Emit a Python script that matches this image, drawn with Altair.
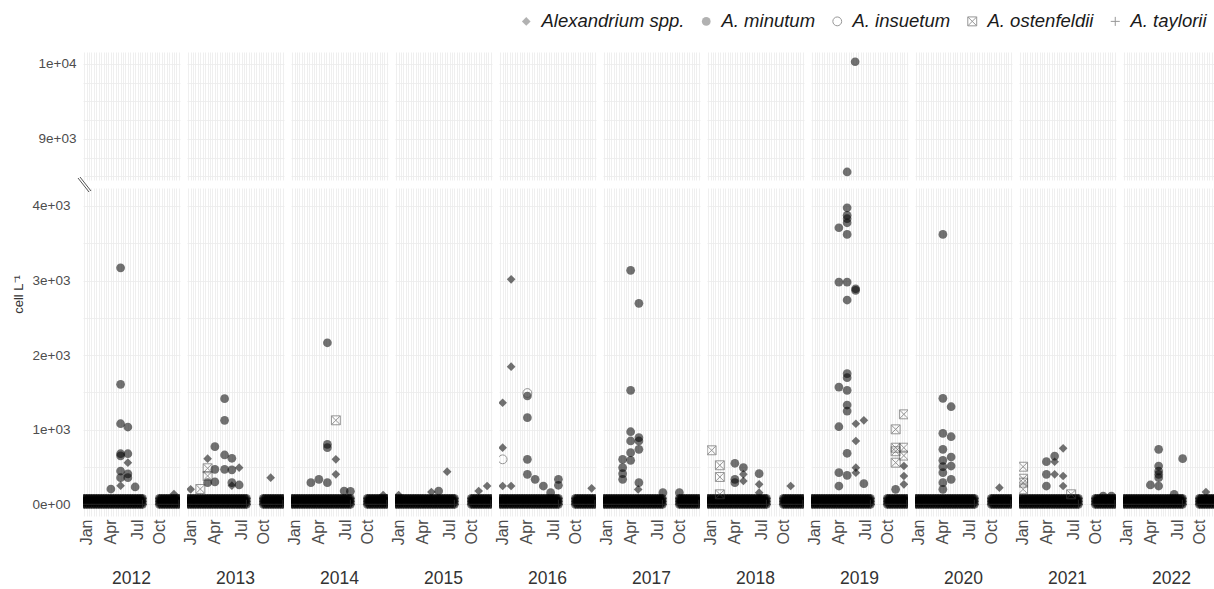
import altair as alt
import pandas as pd

years = list(range(2012, 2023))
species = ["Alexandrium spp.", "A. minutum", "A. insuetum", "A. ostenfeldii", "A. taylorii"]
shape_range = ["diamond", "circle", "circle",
               "M-1,-1H1V1H-1Z M-1,-1L1,1 M1,-1L-1,1",
               "M-1,0H1 M0,-1V1"]
fill_range = ["black", "black", "transparent", "transparent", "transparent"]
stroke_range = ["transparent", "transparent", "#444", "#444", "#444"]
size_range = [75, 81, 81, 100, 170]

month_labels = ["Jan", "Apr", "Jul", "Oct"]
month_pos = [1, 11, 22, 31]
x_grid = list(range(40))

y_bottom_grid = [0, 500, 1000, 1500, 2000, 2500, 3000, 3500, 4000]
y_bottom_ticks = [0, 1000, 2000, 3000, 4000]
y_bottom_labels = ["0e+00", "1e+03", "2e+03", "3e+03", "4e+03"]
y_top_grid = [8500, 8750, 9000, 9250, 9500, 9750, 10000]
y_top_ticks = [9000, 10000]
y_top_labels = ["9e+03", "1e+04"]

# sampled positions (each sampling date) where near-zero counts were recorded
sampled_pos = list(range(0, 25)) + list(range(31, 40))
low_levels = [0, 40, 80]

# (year, position, cells per litre)
spp_obs = [
    (2012, 18, 558), (2012, 37, 138), (2012, 15, 250),
    (2013, 8, 612), (2013, 1, 201), (2013, 21, 491), (2013, 34, 357), (2013, 18, 250),
    (2014, 18, 603), (2014, 18, 402), (2014, 37.5, 125),
    (2015, 21, 437), (2015, 37.5, 245), (2015, 14.5, 165), (2015, 34, 178), (2015, 1, 125),
    (2016, 4.5, 3016), (2016, 4.5, 1845), (2016, 1, 1362), (2016, 1, 759),
    (2016, 4.5, 245), (2016, 1, 245), (2016, 37.7, 214),
    (2017, 14, 200),
    (2018, 14.5, 402), (2018, 14.5, 312), (2018, 21, 268), (2018, 21, 156), (2018, 34, 245),
    (2019, 18, 1080), (2019, 21.3, 1126), (2019, 18, 849), (2019, 18, 491), (2019, 18, 424),
    (2019, 37.8, 513), (2019, 37.8, 379), (2019, 37.8, 268),
    (2020, 34.3, 223),
    (2021, 17.7, 750), (2021, 14.2, 571), (2021, 14.2, 402), (2021, 17.7, 379), (2021, 17.7, 245),
    (2022, 33.7, 165),
]
minutum_obs = [
    (2012, 15, 3170), (2012, 15, 1608), (2012, 15, 1080), (2012, 18, 1036), (2012, 15, 678),
    (2012, 18, 678), (2012, 15, 650), (2012, 15, 446), (2012, 18, 408), (2012, 15, 357),
    (2012, 18, 357), (2012, 11, 205), (2012, 21, 232),
    (2013, 11, 772), (2013, 15, 1416), (2013, 15, 1126), (2013, 15, 661), (2013, 11, 469),
    (2013, 15, 469), (2013, 18, 617), (2013, 18, 462), (2013, 18, 290), (2013, 21, 259),
    (2013, 8, 290), (2013, 11, 300),
    (2014, 14.5, 2166), (2014, 14.5, 804), (2014, 14.5, 759), (2014, 11, 335), (2014, 14.5, 290),
    (2014, 7.7, 290), (2014, 21.4, 178), (2014, 24, 174),
    (2015, 17.5, 178),
    (2016, 11.2, 1452), (2016, 11.2, 1161), (2016, 11.2, 603), (2016, 11.2, 402), (2016, 14.4, 335),
    (2016, 17.8, 245), (2016, 24, 335), (2016, 24, 255), (2016, 20.8, 156),
    (2017, 10.9, 3137), (2017, 14.3, 2694), (2017, 10.9, 1528), (2017, 10.9, 973), (2017, 10.9, 849),
    (2017, 14.3, 893), (2017, 14.3, 849), (2017, 14.3, 737), (2017, 10.9, 692), (2017, 7.6, 603),
    (2017, 7.6, 491), (2017, 7.6, 410), (2017, 7.6, 335), (2017, 10.9, 589), (2017, 14.3, 290),
    (2017, 24.2, 156), (2017, 31, 156),
    (2018, 11, 550), (2018, 14.5, 491), (2018, 11, 290), (2018, 11, 335), (2018, 21, 410),
    (2019, 14.4, 3976), (2019, 14.4, 3874), (2019, 14.4, 3829), (2019, 14.4, 3775), (2019, 11, 3708),
    (2019, 14.4, 3619), (2019, 11, 2980), (2019, 14.4, 2980), (2019, 17.9, 2890), (2019, 17.9, 2868),
    (2019, 14.4, 2739), (2019, 14.4, 1751), (2019, 14.4, 1697), (2019, 11, 1572), (2019, 14.4, 1528),
    (2019, 14.4, 1331), (2019, 14.4, 1250), (2019, 11, 1040), (2019, 14.4, 684), (2019, 11, 424),
    (2019, 11, 245), (2019, 14.4, 388), (2019, 21.3, 277), (2019, 34.4, 201),
    (2019, 17.7, 10030), (2019, 14.4, 8560),
    (2020, 11, 3619), (2020, 11, 1421), (2020, 14.4, 1308), (2020, 11, 952), (2020, 14.4, 906),
    (2020, 11, 737), (2020, 11, 590), (2020, 11, 505), (2020, 11, 424), (2020, 14.4, 634),
    (2020, 14.4, 513), (2020, 14.4, 335), (2020, 11, 290), (2020, 11, 201),
    (2021, 10.8, 571), (2021, 14.2, 647), (2021, 10.8, 402), (2021, 10.8, 245), (2021, 34.2, 111),
    (2021, 37.6, 111),
    (2022, 14.2, 737), (2022, 24.1, 612), (2022, 14.2, 513), (2022, 14.2, 446), (2022, 14.2, 402),
    (2022, 14.2, 357), (2022, 10.8, 259), (2022, 14.2, 245), (2022, 20.6, 134),
]
insuetum_obs = [(2016, 11.2, 1492), (2016, 1, 603)]
ostenfeldii_obs = [
    (2013, 8, 483), (2013, 5, 205), (2013, 8, 380),
    (2014, 18, 1126),
    (2018, 1.4, 724), (2018, 4.8, 523), (2018, 4.8, 366), (2018, 4.8, 134),
    (2019, 37.8, 1206), (2019, 34.4, 1005), (2019, 34.4, 759), (2019, 34.4, 711),
    (2019, 34.4, 558), (2019, 37.8, 759), (2019, 37.8, 653),
    (2021, 1.2, 504), (2021, 1.2, 343), (2021, 1.2, 290), (2021, 1.2, 201), (2021, 21, 134),
]
taylorii_obs = []

rows = []
for yr in years:
    for p in sampled_pos:
        for lv in low_levels:
            rows.append({"year": yr, "pos": p, "value": lv, "species": species[0]})
            rows.append({"year": yr, "pos": p, "value": lv, "species": species[1]})
        rows.append({"year": yr, "pos": p, "value": 0, "species": species[4]})
for sp, obs in zip(species, [spp_obs, minutum_obs, insuetum_obs, ostenfeldii_obs, taylorii_obs]):
    for yr, p, v in obs:
        rows.append({"year": yr, "pos": p, "value": v, "species": sp})
df = pd.DataFrame(rows)


def ternary(vals, labels):
    expr = "''"
    for v, l in zip(reversed(vals), reversed(labels)):
        expr = f"datum.value == {v} ? '{l}' : ({expr})"
    return expr


leg = alt.Legend(orient="none", legendX=434, legendY=-40, direction="horizontal",
                 title=None, labelFontSize=18.5, labelFontStyle="italic", labelColor="#1a1a1a",
                 labelOffset=6, columnPadding=12, symbolStrokeWidth=1, padding=0)

enc = dict(
    shape=alt.Shape("species:N", scale=alt.Scale(domain=species, range=shape_range), legend=leg),
    fill=alt.Fill("species:N", scale=alt.Scale(domain=species, range=fill_range), legend=leg),
    stroke=alt.Stroke("species:N", scale=alt.Scale(domain=species, range=stroke_range), legend=leg),
    size=alt.Size("species:N", scale=alt.Scale(domain=species, range=size_range), legend=leg),
)

x_top = alt.X("pos:Q", scale=alt.Scale(domain=[-0.5, 39.5], nice=False, zero=False),
              axis=alt.Axis(values=x_grid, labels=False, ticks=False, domain=False, title=None,
                            minExtent=0, maxExtent=0))
x_bot = alt.X("pos:Q", scale=alt.Scale(domain=[-0.5, 39.5], nice=False, zero=False),
              axis=alt.Axis(values=x_grid, labelExpr=ternary(month_pos, month_labels),
                            labelAngle=270, labelAlign="right", labelBaseline="middle",
                            labelFontSize=16, labelPadding=3, labelOverlap=False,
                            labelFlush=False, ticks=False, domain=False, title=None))

y_top = alt.Y("value:Q", scale=alt.Scale(domain=[8453, 10160], nice=False, zero=False),
              axis=alt.Axis(values=y_top_grid, labelExpr=ternary(y_top_ticks, y_top_labels),
                            title=None, ticks=False, domain=False, labelPadding=7,
                            labelOverlap=False))
y_bot = alt.Y("value:Q", scale=alt.Scale(domain=[-157, 4241], nice=False, zero=False),
              axis=alt.Axis(values=y_bottom_grid, labelExpr=ternary(y_bottom_ticks, y_bottom_labels),
                            title="cell L⁻¹", titleFontSize=13, titleFontWeight="normal",
                            titleColor="#333", titleX=-59, titleY=106, titleAngle=270,
                            titleBaseline="middle", titleAlign="center",
                            ticks=False, domain=False, labelPadding=7, labelOverlap=False))

mark = dict(opacity=0.55, strokeWidth=1, clip=True)

top = alt.Chart().mark_point(**mark).encode(x=x_top, y=y_top, **enc).properties(
    width=97, height=128
).facet(column=alt.Column("year:O", header=None), spacing=7, data=df)

points_bottom = alt.Chart().mark_point(**mark).encode(x=x_bot, y=y_bot, **enc)
# axis-break marks drawn once, beside the first panel
first_row = "datum.year == 2012 && datum.pos == 0 && datum.value == 0 && datum.species == 'A. taylorii'"
break_a = alt.Chart().mark_rule(color="#555", strokeWidth=1, clip=False).encode(
    x=alt.value(-5), y=alt.value(-10), x2=alt.value(6), y2=alt.value(4)
).transform_filter(first_row)
break_b = alt.Chart().mark_rule(color="#555", strokeWidth=1, clip=False).encode(
    x=alt.value(-3), y=alt.value(-11), x2=alt.value(8), y2=alt.value(3)
).transform_filter(first_row)

bottom = alt.layer(points_bottom, break_a, break_b).properties(
    width=97, height=328
).facet(column=alt.Column("year:O", header=alt.Header(labelOrient="bottom", title=None,
                                                      labelFontSize=17.5, labelColor="#333",
                                                      labelPadding=25, labelBaseline="top")),
        spacing=7, data=df)

chart = alt.vconcat(top, bottom, spacing=-7).resolve_scale(
    shape="shared", fill="shared", stroke="shared", size="shared"
).properties(
    autosize=alt.AutoSizeParams(type="none"),
    padding={"left": 83, "top": 52, "right": 1131, "bottom": 537}
).configure(
    font="Liberation Sans"
).configure_view(strokeWidth=0).configure_axis(
    gridColor="#ebebeb", gridWidth=0.8, labelColor="#4d4d4d", labelFontSize=13.5,
    labelFont="Liberation Sans"
)

chart.save("out.html", embed_options={"renderer": "svg", "actions": False})
